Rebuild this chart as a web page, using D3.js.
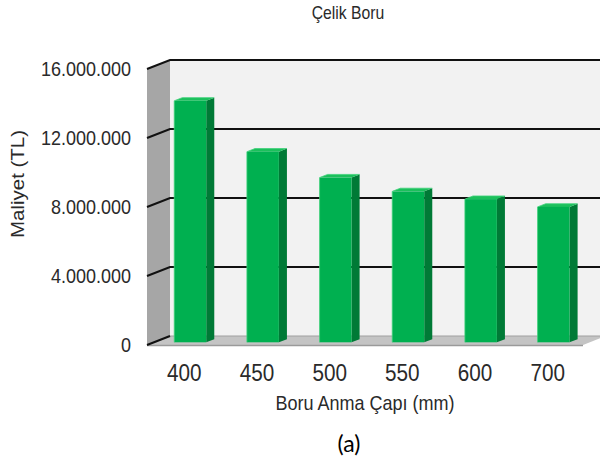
<!DOCTYPE html>
<html>
<head>
<meta charset="utf-8">
<script src="https://cdn.jsdelivr.net/npm/d3@7"></script>
<style>
  html, body { margin: 0; padding: 0; background: #fff; }
  svg { display: block; }
  text { font-family: Arial, "Liberation Sans", sans-serif; fill: #2a2a2a; }
</style>
</head>
<body>
<svg id="chart" width="600" height="466"></svg>
<script>
// Pipe diameters (mm) and their cost (TL)
const categories = ["400", "450", "500", "550", "600", "700"];
const costs = [14000000, 11050000, 9550000, 8750000, 8300000, 7850000];
const yTickValues = [0, 4000000, 8000000, 12000000, 16000000];

const chartTitle = "Çelik Boru";
const xTitle = "Boru Anma Çapı (mm)";
const yTitle = "Maliyet (TL)";
const caption = "(a)";

const svg = d3.select("#chart");

// Front edge of the 3D plot box and its depth vector
const plotLeft = 147, plotRight = 583, plotBottom = 345, plotTop = 69;
const DX = 23, DY = -9;
const squeeze = 0.9;

const y = d3.scaleLinear().domain([0, 16000000]).range([plotBottom, plotTop]);
const x = d3.scaleBand().domain(categories).range([plotLeft, plotRight])
  .paddingInner(0.56).paddingOuter(0.28);

const trLocale = d3.formatLocale({ decimal: ",", thousands: ".", grouping: [3], currency: ["", " TL"] });
const fmt = trLocale.format(",d");

// Walls and floor
const backX0 = plotLeft + DX, backX1 = 640;
svg.append("rect").attr("x", backX0).attr("y", y(16000000) + DY)
  .attr("width", backX1 - backX0).attr("height", y(0) - y(16000000))
  .attr("fill", "#f2f2f2");

svg.append("path")
  .attr("d", `M${plotLeft},${y(16000000)} L${plotLeft + DX},${y(16000000) + DY} L${plotLeft + DX},${y(0) + DY} L${plotLeft},${y(0)} Z`)
  .attr("fill", "#a6a6a6");

svg.append("path")
  .attr("d", `M${plotLeft},${y(0)} L${plotLeft + DX},${y(0) + DY} L${plotRight + DX},${y(0) + DY} L${plotRight},${y(0)} Z`)
  .attr("fill", "#c4c4c4");
svg.append("line")
  .attr("x1", plotLeft).attr("x2", plotRight).attr("y1", y(0) + 0.5).attr("y2", y(0) + 0.5)
  .attr("stroke", "#9a9a9a").attr("stroke-width", 1.5);
svg.append("line")
  .attr("x1", plotLeft + DX).attr("x2", 640).attr("y1", y(0) + DY).attr("y2", y(0) + DY)
  .attr("stroke", "#a0a0a0").attr("stroke-width", 1);

// Gridlines across the side and back walls
svg.append("g").selectAll("path").data(yTickValues).join("path")
  .attr("d", v => v === 0
    ? `M${plotLeft},${y(v)} L${plotLeft + DX},${y(v) + DY}`
    : `M${plotLeft},${y(v)} L${plotLeft + DX},${y(v) + DY} L640,${y(v) + DY}`)
  .attr("fill", "none")
  .attr("stroke", "#111")
  .attr("stroke-width", 2);

// Y tick labels
svg.append("g").selectAll("text").data(yTickValues).join("text")
  .attr("transform", v => `translate(131,${y(v)}) scale(${squeeze},1)`)
  .attr("text-anchor", "end")
  .attr("dominant-baseline", "central")
  .style("font-size", "20px")
  .text(v => fmt(v));

// Bars as 3D boxes
const t0 = 0.3, t1 = 0.65;
const bars = svg.append("g").selectAll("g").data(categories.map((c, i) => ({ c, v: costs[i] }))).join("g");
const fx = d => x(d.c) + t0 * DX;
const fy = v => y(v) + t0 * DY;
const ddx = (t1 - t0) * DX, ddy = (t1 - t0) * DY;
const bw = x.bandwidth();

bars.append("path") // side
  .attr("d", d => `M${fx(d) + bw},${fy(d.v)} L${fx(d) + bw + ddx},${fy(d.v) + ddy} L${fx(d) + bw + ddx},${fy(0) + ddy} L${fx(d) + bw},${fy(0)} Z`)
  .attr("fill", "#007a36");
bars.append("path") // top
  .attr("d", d => `M${fx(d)},${fy(d.v)} L${fx(d) + ddx},${fy(d.v) + ddy} L${fx(d) + bw + ddx},${fy(d.v) + ddy} L${fx(d) + bw},${fy(d.v)} Z`)
  .attr("fill", "#1cc05c");
bars.append("rect") // front
  .attr("x", d => fx(d)).attr("y", d => fy(d.v))
  .attr("width", bw).attr("height", d => fy(0) - fy(d.v))
  .attr("fill", "#00b050");
bars.append("path")
  .attr("d", d => `M${fx(d)},${fy(0)} L${fx(d)},${fy(d.v)} L${fx(d) + ddx},${fy(d.v) + ddy} L${fx(d) + bw + ddx},${fy(d.v) + ddy}`)
  .attr("fill", "none").attr("stroke", "#3fd27a").attr("stroke-width", 0.8);

// X tick labels
svg.append("g").selectAll("text").data(categories).join("text")
  .attr("transform", c => `translate(${x(c) + bw / 2 + 1},381) scale(${squeeze},1)`)
  .attr("text-anchor", "middle")
  .style("font-size", "23px")
  .text(c => c);

// Titles
svg.append("text")
  .attr("transform", `translate(${(plotLeft + plotRight) / 2},410) scale(${squeeze},1)`)
  .attr("text-anchor", "middle")
  .style("font-size", "20px")
  .text(xTitle);

svg.append("text")
  .attr("transform", `translate(24,184) scale(${squeeze},1) rotate(-90)`)
  .attr("text-anchor", "middle")
  .style("font-size", "20.5px")
  .text(yTitle);

svg.append("text")
  .attr("transform", `translate(348,19) scale(${squeeze},1)`)
  .attr("text-anchor", "middle")
  .style("font-size", "17.5px")
  .text(chartTitle);

svg.append("text")
  .attr("transform", `translate(349,452)`)
  .attr("text-anchor", "middle")
  .style("font-family", "Lato, 'Open Sans', sans-serif")
  .style("font-size", "23px")
  .style("fill", "#000")
  .text(caption);
</script>
</body>
</html>
